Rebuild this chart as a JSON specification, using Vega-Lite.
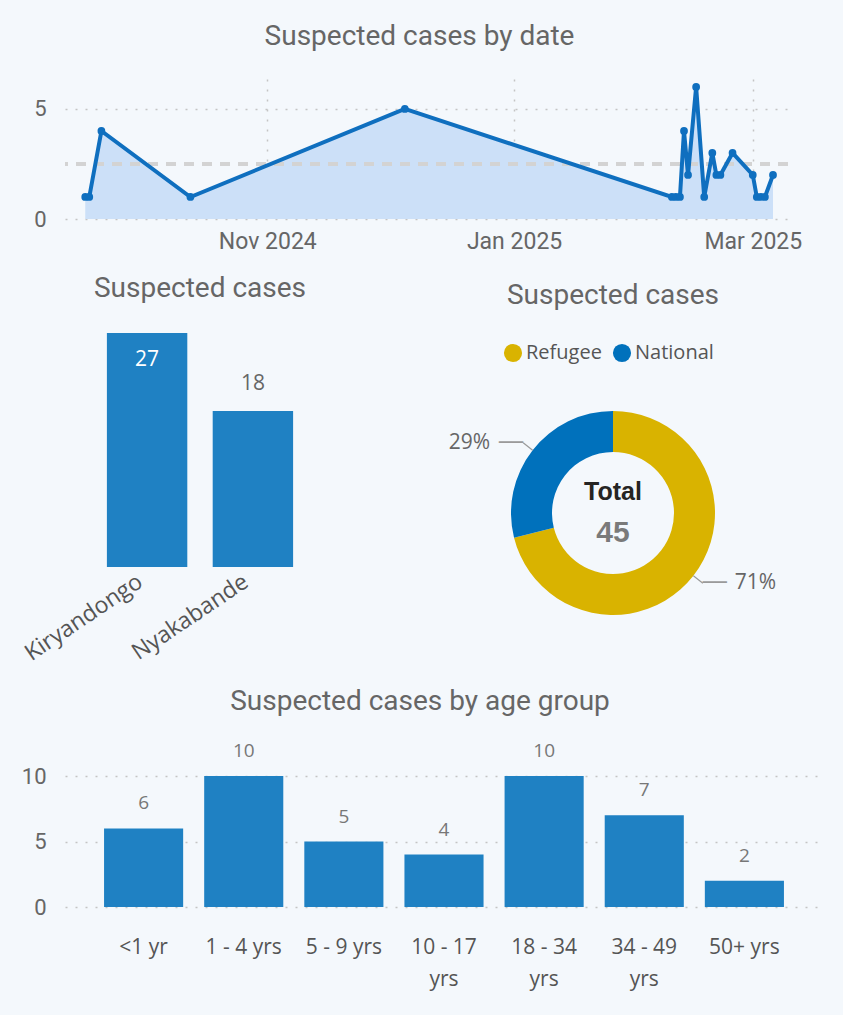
{
  "$schema": "https://vega.github.io/schema/vega-lite/v6.json",
  "background": "#F4F8FC",
  "padding": {"left": 20, "top": 22, "right": 20, "bottom": 28},
  "config": {
    "view": {"stroke": null, "fill": "#F4F8FC"},
    "font": "Open Sans",
    "title": {"font": "Roboto", "fontSize": 28, "fontWeight": "normal", "color": "#666666", "anchor": "middle"},
    "axis": {"domain": false, "ticks": false, "labelColor": "#666666", "gridColor": "#C4C4C4", "gridDash": [2, 8], "gridWidth": 1.5}
  },
  "datasets": {
    "byDate": [
      {"date": "2024-09-17", "cases": 1},
      {"date": "2024-09-18", "cases": 1},
      {"date": "2024-09-21", "cases": 4},
      {"date": "2024-10-13", "cases": 1},
      {"date": "2024-12-05", "cases": 5},
      {"date": "2025-02-09", "cases": 1},
      {"date": "2025-02-10", "cases": 1},
      {"date": "2025-02-11", "cases": 1},
      {"date": "2025-02-12", "cases": 4},
      {"date": "2025-02-13", "cases": 2},
      {"date": "2025-02-15", "cases": 6},
      {"date": "2025-02-17", "cases": 1},
      {"date": "2025-02-19", "cases": 3},
      {"date": "2025-02-20", "cases": 2},
      {"date": "2025-02-21", "cases": 2},
      {"date": "2025-02-24", "cases": 3},
      {"date": "2025-03-01", "cases": 2},
      {"date": "2025-03-02", "cases": 1},
      {"date": "2025-03-03", "cases": 1},
      {"date": "2025-03-04", "cases": 1},
      {"date": "2025-03-06", "cases": 2}
    ],
    "bySite": [
      {"site": "Kiryandongo", "cases": 27},
      {"site": "Nyakabande", "cases": 18}
    ],
    "byGroup": [
      {"group": "Refugee", "cases": 32},
      {"group": "National", "cases": 13}
    ],
    "byAge": [
      {"age": "<1 yr", "cases": 6},
      {"age": "1 - 4 yrs", "cases": 10},
      {"age": "5 - 9 yrs", "cases": 5},
      {"age": "10 - 17 yrs", "cases": 4},
      {"age": "18 - 34 yrs", "cases": 10},
      {"age": "34 - 49 yrs", "cases": 7},
      {"age": "50+ yrs", "cases": 2}
    ]
  },
  "spacing": 22,
  "resolve": {"legend": {"color": "independent"}},
  "vconcat": [
    {
      "width": 723,
      "height": 140,
      "title": {"text": "Suspected cases by date", "offset": 28, "dx": -7},
      "data": {"name": "byDate"},
      "layer": [
        {
          "mark": {"type": "area", "color": "#CCE0F8", "opacity": 1},
          "encoding": {
            "x": {"field": "date", "type": "temporal",
              "scale": {"type": "utc", "domain": [{"year": 2024, "month": 9, "date": 12, "utc": true}, {"year": 2025, "month": 3, "date": 9, "hours": 17, "utc": true}]},
              "axis": {"title": null, "grid": true, "format": "%b %Y", "labelFont": "Roboto", "labelFontSize": 23, "labelPadding": 11, "labelFlush": false,
                "values": [{"year": 2024, "month": 11, "date": 1, "utc": true}, {"year": 2025, "month": 1, "date": 1, "utc": true}, {"year": 2025, "month": 3, "date": 1, "utc": true}]}},
            "y": {"field": "cases", "type": "quantitative", "scale": {"domain": [0, 6.36], "nice": false},
              "axis": {"title": null, "grid": true, "values": [0, 5], "labelFont": "Roboto", "labelFontSize": 22, "labelPadding": 19, "minExtent": 45}}
          }
        },
        {
          "mark": {"type": "rule", "color": "#D3D3D3", "strokeWidth": 4, "strokeDash": [10, 8]},
          "encoding": {"y": {"datum": 2.5}}
        },
        {
          "mark": {"type": "line", "color": "#0F6FBF", "strokeWidth": 4, "point": {"filled": true, "size": 60, "color": "#0F6FBF"}},
          "encoding": {
            "x": {"field": "date", "type": "temporal"},
            "y": {"field": "cases", "type": "quantitative"}
          }
        }
      ]
    },
    {
      "spacing": 113,
      "resolve": {"legend": {"color": "independent"}},
      "hconcat": [
        {
          "width": 270,
          "height": 156,
          "title": {"text": "Suspected cases", "offset": 30},
          "data": {"name": "bySite"},
          "encoding": {
            "x": {"field": "site", "type": "nominal", "sort": null,
              "scale": {"paddingInner": 0.24, "paddingOuter": 0.396},
              "axis": {"title": null, "labelAngle": -34, "labelFontSize": 23, "labelColor": "#555555", "labelPadding": 3, "labelOffset": -13}},
            "y": {"field": "cases", "type": "quantitative", "scale": {"domain": [0, 18], "nice": false, "zero": true}, "axis": null}
          },
          "layer": [
            {"mark": {"type": "bar", "color": "#1F81C3", "clip": false}},
            {
              "transform": [{"filter": "datum.cases > 20"}],
              "mark": {"type": "text", "baseline": "middle", "dy": 27, "fontSize": 21, "color": "#FFFFFF"},
              "encoding": {"text": {"field": "cases", "type": "quantitative"}}
            },
            {
              "transform": [{"filter": "datum.cases <= 20"}],
              "mark": {"type": "text", "baseline": "middle", "dy": -27, "fontSize": 21, "color": "#666666"},
              "encoding": {"text": {"field": "cases", "type": "quantitative"}}
            }
          ]
        },
        {
          "width": 220,
          "height": 204,
          "title": {"text": "Suspected cases", "offset": 33},
          "data": {"name": "byGroup"},
          "transform": [
            {"calculate": "datum.group === 'Refugee' ? 0 : 1", "as": "ord"},
            {"joinaggregate": [{"op": "sum", "field": "cases", "as": "total"}]},
            {"calculate": "datum.cases / datum.total", "as": "pct"},
            {"window": [{"op": "sum", "field": "cases", "as": "cum"}], "sort": [{"field": "ord"}]},
            {"calculate": "datum.cum - datum.cases / 2", "as": "mid"},
            {"calculate": "datum.mid - 0.04", "as": "lo"},
            {"calculate": "datum.mid + 0.04", "as": "hi"}
          ],
          "layer": [
            {
              "mark": {"type": "arc", "radius": 102, "radius2": 61},
              "encoding": {
                "theta": {"field": "cases", "type": "quantitative", "stack": true},
                "order": {"field": "ord", "type": "quantitative"},
                "color": {"field": "group", "type": "nominal",
                  "scale": {"domain": ["Refugee", "National"], "range": ["#D9B300", "#0071BC"]},
                  "legend": {"title": null, "orient": "top", "direction": "horizontal", "symbolType": "circle", "symbolSize": 330,
                    "labelFontSize": 20, "labelColor": "#555555", "labelFont": "Open Sans", "columnPadding": 10, "labelOffset": 3, "offset": 48}}
              }
            },
            {
              "mark": {"type": "arc", "radius": 114, "radius2": 102, "color": "#9A9A9A"},
              "encoding": {
                "theta": {"field": "lo", "type": "quantitative"},
                "theta2": {"field": "hi"}
              }
            },
            {
              "transform": [{"filter": "datum.group === 'National'"}],
              "layer": [
                {
                  "mark": {"type": "text", "radius": 114, "align": "right", "baseline": "middle", "font": "DejaVu Sans Mono", "fontSize": 20, "color": "#9A9A9A", "text": "──"},
                  "encoding": {"theta": {"field": "mid", "type": "quantitative", "stack": null}}
                },
                {
                  "mark": {"type": "text", "radius": 114, "align": "right", "baseline": "middle", "dx": -33, "fontSize": 21, "color": "#666666"},
                  "encoding": {"theta": {"field": "mid", "type": "quantitative", "stack": null}, "text": {"field": "pct", "type": "quantitative", "format": ".0%"}}
                }
              ]
            },
            {
              "transform": [{"filter": "datum.group === 'Refugee'"}],
              "layer": [
                {
                  "mark": {"type": "text", "radius": 114, "align": "left", "baseline": "middle", "font": "DejaVu Sans Mono", "fontSize": 20, "color": "#9A9A9A", "text": "──"},
                  "encoding": {"theta": {"field": "mid", "type": "quantitative", "stack": null}}
                },
                {
                  "mark": {"type": "text", "radius": 114, "align": "left", "baseline": "middle", "dx": 32, "fontSize": 21, "color": "#666666"},
                  "encoding": {"theta": {"field": "mid", "type": "quantitative", "stack": null}, "text": {"field": "pct", "type": "quantitative", "format": ".0%"}}
                }
              ]
            },
            {
              "transform": [{"aggregate": [{"op": "sum", "field": "cases", "as": "all"}]}],
              "layer": [
                {
                  "mark": {"type": "text", "baseline": "middle", "dy": -21, "font": "Liberation Sans", "fontWeight": "bold", "fontSize": 25, "color": "#252423", "text": "Total"}
                },
                {
                  "mark": {"type": "text", "baseline": "middle", "dy": 20, "font": "Liberation Sans", "fontWeight": "bold", "fontSize": 30, "color": "#7A7A7A"},
                  "encoding": {"text": {"field": "all", "type": "quantitative"}}
                }
              ]
            }
          ]
        }
      ]
    },
    {
      "width": 758,
      "height": 131,
      "title": {"text": "Suspected cases by age group", "offset": 26, "dx": -24},
      "data": {"name": "byAge"},
      "encoding": {
        "x": {"field": "age", "type": "nominal", "sort": null,
          "scale": {"paddingInner": 0.21, "paddingOuter": 0.39},
          "axis": {"title": null, "labelAngle": 0, "labelFontSize": 21, "labelColor": "#555555", "labelPadding": 29, "labelLineHeight": 32,
            "labelExpr": "datum.label == '10 - 17 yrs' ? ['10 - 17', 'yrs'] : datum.label == '18 - 34 yrs' ? ['18 - 34', 'yrs'] : datum.label == '34 - 49 yrs' ? ['34 - 49', 'yrs'] : datum.label"}},
        "y": {"field": "cases", "type": "quantitative", "scale": {"domain": [0, 10], "nice": false},
          "axis": {"title": null, "grid": true, "values": [0, 5, 10], "labelFont": "Roboto", "labelFontSize": 22, "labelPadding": 19, "minExtent": 45}}
      },
      "layer": [
        {"mark": {"type": "bar", "color": "#1F81C3"}},
        {
          "mark": {"type": "text", "baseline": "middle", "dy": -25, "fontSize": 19, "color": "#777777"},
          "encoding": {"text": {"field": "cases", "type": "quantitative"}}
        }
      ]
    }
  ]
}
